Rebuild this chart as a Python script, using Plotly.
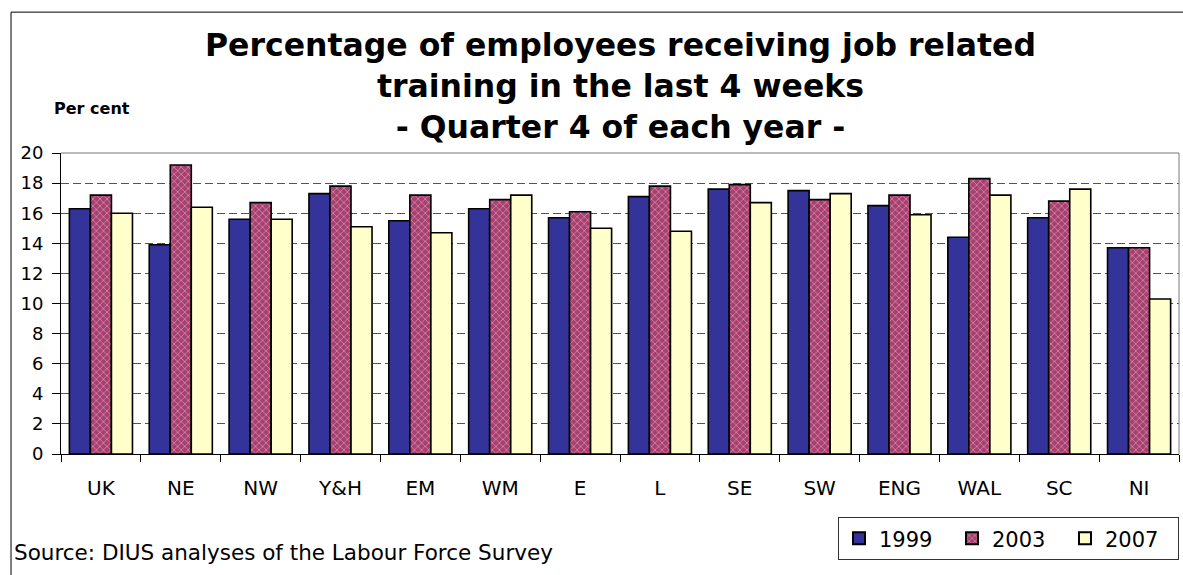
import plotly.graph_objects as go

regions = ["UK", "NE", "NW", "Y&H", "EM", "WM", "E", "L", "SE", "SW", "ENG", "WAL", "SC", "NI"]
v1999 = [16.3, 13.9, 15.6, 17.3, 15.5, 16.3, 15.7, 17.1, 17.6, 17.5, 16.5, 14.4, 15.7, 13.7]
v2003 = [17.2, 19.2, 16.7, 17.8, 17.2, 16.9, 16.1, 17.8, 17.9, 16.9, 17.2, 18.3, 16.8, 13.7]
v2007 = [16.0, 16.4, 15.6, 15.1, 14.7, 17.2, 15.0, 14.8, 16.7, 17.3, 15.9, 17.2, 17.6, 10.3]
y_ticks = [0, 2, 4, 6, 8, 10, 12, 14, 16, 18, 20]

FONT = "DejaVu Sans, Liberation Sans, Arial, sans-serif"

fig = go.Figure()
fig.add_trace(go.Bar(name="1999", x=regions, y=v1999,
                     marker=dict(color="#333399", line=dict(color="black", width=1.6))))
fig.add_trace(go.Bar(name="2003", x=regions, y=v2003,
                     marker=dict(color="#993366", line=dict(color="black", width=1.6),
                                 pattern=dict(shape="x", fgcolor="#F2D4E2", bgcolor="#A8406F",
                                              size=5, solidity=0.3))))
fig.add_trace(go.Bar(name="2007", x=regions, y=v2007,
                     marker=dict(color="#FFFFCC", line=dict(color="black", width=1.6))))

fig.update_layout(
    width=1183, height=575,
    margin=dict(l=61, r=4, t=153, b=121),
    paper_bgcolor="white", plot_bgcolor="white",
    barmode="group", bargap=0.21, bargroupgap=0,
    font=dict(family=FONT, color="black", size=17),
    showlegend=True,
    legend=dict(orientation="h", xanchor="right", x=1.0, yanchor="top", y=-0.21,
                bordercolor="#333333", borderwidth=1, font=dict(size=21),
                entrywidth=68, entrywidthmode="pixels", traceorder="normal",
                itemsizing="constant"),
    xaxis=dict(showline=True, linecolor="black", linewidth=1, ticks="outside",
               tickson="boundaries", ticklen=7, tickcolor="black",
               tickfont=dict(size=20), showgrid=False, ticklabelstandoff=16),
    yaxis=dict(range=[0, 20], tickvals=y_ticks, showline=True, linecolor="black",
               linewidth=1, ticks="outside", ticklen=8, tickcolor="black",
               tickfont=dict(size=18), showgrid=True, gridcolor="#555555",
               griddash="8px,4px", gridwidth=1, zeroline=False, ticklabelstandoff=5),
)

# plot-area top and right border
fig.add_shape(type="line", xref="paper", yref="paper", x0=0, x1=1, y0=1, y1=1,
              line=dict(color="#777777", width=1))
fig.add_shape(type="line", xref="paper", yref="paper", x0=1, x1=1, y0=0, y1=1,
              line=dict(color="#777777", width=1))
# outer chart border
fig.add_shape(type="rect", xref="paper", yref="paper", x0=-0.0447, x1=1.02,
              y0=-0.5, y1=1.468, line=dict(color="black", width=1))

fig.add_annotation(xref="paper", yref="paper", x=0.5, y=1.2226, yanchor="middle",
                   text="<b>Percentage of employees receiving job related<br>training in the last 4 weeks<br>- Quarter 4 of each year -</b>",
                   showarrow=False, font=dict(size=31.5, family=FONT), align="center")
fig.add_annotation(xref="paper", yref="paper", x=-0.008, xanchor="left", y=1.148,
                   yanchor="middle", text="<b>Per cent</b>", showarrow=False,
                   font=dict(size=16, family=FONT))
fig.add_annotation(xref="paper", yref="paper", x=-0.044, xanchor="left", y=-0.326,
                   yanchor="middle", text="Source: DIUS analyses of the Labour Force Survey",
                   showarrow=False, font=dict(size=21.5, family=FONT))

fig.write_html("out.html", config={"displayModeBar": False},
               post_script="document.body.style.margin='0';document.body.style.overflow='hidden';")
